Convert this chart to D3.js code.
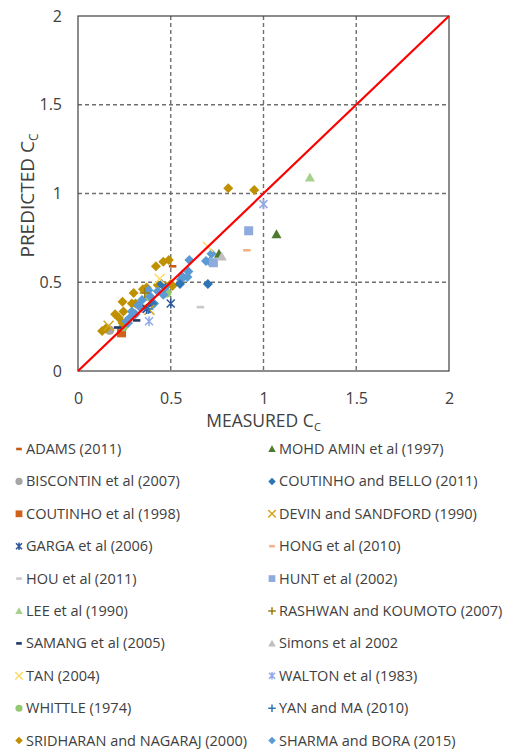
<!DOCTYPE html>
<html>
<head>
<meta charset="utf-8">
<script src="https://cdn.jsdelivr.net/npm/d3@7"></script>
<style>
	body { margin: 0; background: #fff; }
	#container { width: 506px; height: 751px; }
	text { font-family: "Open Sans", "Liberation Sans", sans-serif; fill: #404040; }
</style>
</head>
<body>
<div id="container"></div>
<script>
//Axis ticks
var ticks = [0, 0.5, 1, 1.5, 2];

//Each series: [measured, predicted]
var adams = [[0.51, 0.59]];
var mohdAmin = [[1.07, 0.77], [0.76, 0.66]];
var biscontin = [[0.17, 0.23]];
var coutinhoBello = [[0.55, 0.49], [0.70, 0.49], [0.40, 0.38], [0.45, 0.49]];
var coutinho1998 = [[0.235, 0.215]];
var devin = [[0.165, 0.255], [0.385, 0.345]];
var garga = [[0.50, 0.38], [0.37, 0.35]];
var hong = [[0.91, 0.68]];
var hou = [[0.66, 0.36]];
var hunt = [[0.92, 0.79], [0.73, 0.61]];
var lee = [[1.25, 1.09]];
var rashwan = [[0.36, 0.44]];
var samang = [[0.316, 0.285], [0.214, 0.245]];
var simons = [[0.775, 0.645]];
var tan = [[0.70, 0.70], [0.44, 0.52]];
var walton = [[1.00, 0.94], [0.383, 0.28]];
var whittle = [[0.38, 0.42], [0.478, 0.44], [0.244, 0.25]];
var yanMa = [[0.38, 0.35]];
var sridharan = [[0.13, 0.225], [0.15, 0.24], [0.20, 0.32], [0.22, 0.30], [0.24, 0.27],
	[0.245, 0.335], [0.29, 0.38], [0.24, 0.39], [0.30, 0.44], [0.31, 0.38], [0.35, 0.46],
	[0.37, 0.47], [0.42, 0.59], [0.46, 0.615], [0.49, 0.625], [0.43, 0.485], [0.47, 0.48],
	[0.50, 0.49], [0.51, 0.48], [0.81, 1.03], [0.95, 1.02]];
var sharma = [[0.60, 0.625], [0.56, 0.535], [0.595, 0.56], [0.69, 0.62], [0.72, 0.66],
	[0.71, 0.615], [0.555, 0.515], [0.59, 0.53], [0.46, 0.43], [0.38, 0.455], [0.34, 0.355],
	[0.29, 0.335], [0.28, 0.30], [0.26, 0.28], [0.325, 0.37], [0.345, 0.40], [0.39, 0.42],
	[0.41, 0.38], [0.43, 0.45], [0.47, 0.47], [0.31, 0.32], [0.27, 0.27]];

//Legend order (two columns, row by row)
var legendNames = ["ADAMS (2011)", "MOHD AMIN et al (1997)", "BISCONTIN et al (2007)",
	"COUTINHO and BELLO (2011)", "COUTINHO et al (1998)", "DEVIN and SANDFORD (1990)",
	"GARGA et al (2006)", "HONG et al (2010)", "HOU et al (2011)", "HUNT et al (2002)",
	"LEE et al (1990)", "RASHWAN and KOUMOTO (2007)", "SAMANG et al (2005)", "Simons et al 2002",
	"TAN (2004)", "WALTON et al (1983)", "WHITTLE (1974)", "YAN and MA (2010)",
	"SRIDHARAN and NAGARAJ (2000)", "SHARMA and BORA (2015)"];
var legendData = [adams, mohdAmin, biscontin, coutinhoBello, coutinho1998, devin, garga, hong,
	hou, hunt, lee, rashwan, samang, simons, tan, walton, whittle, yanMa, sridharan, sharma];
var shapes = ["dash", "triangle", "circle", "diamond", "square", "x", "star", "dash", "dash", "square",
	"triangle", "plus", "dash", "triangle", "x", "star", "circle", "plus", "diamond", "diamond"];
var colors = ["#C55A11", "#4E7A2E", "#A5A5A5", "#2E75B6", "#D0611A", "#D4A31A", "#2F5597", "#F4B183",
	"#C9C9C9", "#8FAADC", "#A9D18E", "#A07A10", "#203864", "#BFBFBF", "#FFD966", "#8FA8E8",
	"#94C973", "#2E75B6", "#BF9000", "#5B9BD5"];

//Paint order roughly as in the picture
var drawOrder = [4, 2, 16, 18, 19, 3, 0, 1, 5, 6, 7, 8, 9, 10, 11, 12, 13, 14, 15, 17];

function marker(g, shape, color, s) {
	var h = s / 2;
	if (shape === "diamond") {
		g.append("path").attr("d", "M0," + (-h) + "L" + h + ",0L0," + h + "L" + (-h) + ",0Z").attr("fill", color);
	} else if (shape === "square") {
		g.append("rect").attr("x", -h * 0.9).attr("y", -h * 0.9).attr("width", h * 1.8).attr("height", h * 1.8).attr("fill", color);
	} else if (shape === "circle") {
		g.append("circle").attr("r", h * 0.95).attr("fill", color);
	} else if (shape === "triangle") {
		g.append("path").attr("d", "M0," + (-h) + "L" + h + "," + (h * 0.8) + "L" + (-h) + "," + (h * 0.8) + "Z").attr("fill", color);
	} else if (shape === "dash") {
		g.append("rect").attr("x", -h * 0.75).attr("y", -1.3).attr("width", h * 1.5).attr("height", 2.6).attr("fill", color);
	} else if (shape === "x") {
		g.append("path").attr("d", "M" + (-h) + "," + (-h) + "L" + h + "," + h + "M" + h + "," + (-h) + "L" + (-h) + "," + h)
			.attr("stroke", color).attr("stroke-width", 1.5);
	} else if (shape === "plus") {
		g.append("path").attr("d", "M0," + (-h) + "L0," + h + "M" + (-h) + ",0L" + h + ",0")
			.attr("stroke", color).attr("stroke-width", 1.5);
	} else if (shape === "star") {
		//Excel style asterisk: an x with a vertical bar
		g.append("path").attr("d", "M" + (-h * 0.8) + "," + (-h * 0.8) + "L" + (h * 0.8) + "," + (h * 0.8) +
			"M" + (h * 0.8) + "," + (-h * 0.8) + "L" + (-h * 0.8) + "," + (h * 0.8) + "M0," + (-h) + "L0," + h)
			.attr("stroke", color).attr("stroke-width", 1.5);
	}
}

function makeChart() {
	var left = 78, right = 449, top = 16, bottom = 371;

	var svg = d3.select("#container").append("svg")
		.attr("width", 506).attr("height", 751);

	var x = d3.scaleLinear().domain([0, 2]).range([left, right]);
	var y = d3.scaleLinear().domain([0, 2]).range([bottom, top]);

	//Dashed grid
	var grid = svg.append("g");
	grid.selectAll(".gx").data(ticks.slice(1, 4)).enter().append("line")
		.attr("x1", function(d) { return x(d); }).attr("x2", function(d) { return x(d); })
		.attr("y1", top).attr("y2", bottom)
		.attr("stroke", "#6f6f6f").attr("stroke-width", 1.4).attr("stroke-dasharray", "4,3");
	grid.selectAll(".gy").data(ticks.slice(1, 4)).enter().append("line")
		.attr("y1", function(d) { return y(d); }).attr("y2", function(d) { return y(d); })
		.attr("x1", left).attr("x2", right)
		.attr("stroke", "#6f6f6f").attr("stroke-width", 1.4).attr("stroke-dasharray", "4,3");

	//Frame
	svg.append("rect").attr("x", left).attr("y", top).attr("width", right - left).attr("height", bottom - top)
		.attr("fill", "none").attr("stroke", "#404040").attr("stroke-width", 1.2);

	//Axes (labels only)
	var xAxis = svg.append("g").attr("transform", "translate(0," + bottom + ")")
		.call(d3.axisBottom(x).tickValues(ticks).tickSize(0).tickPadding(22).tickFormat(d3.format("")));
	var yAxis = svg.append("g").attr("transform", "translate(" + left + ",0)")
		.call(d3.axisLeft(y).tickValues(ticks).tickSize(0).tickPadding(16).tickFormat(d3.format("")));
	[xAxis, yAxis].forEach(function(a) {
		a.select(".domain").remove();
		a.selectAll("text").attr("font-size", "16px").attr("font-family", null).attr("fill", "#404040");
	});

	//Points
	var pts = svg.append("g");
	drawOrder.forEach(function(i) {
		legendData[i].forEach(function(p) {
			var g = pts.append("g").attr("transform", "translate(" + x(p[0]) + "," + y(p[1]) + ")");
			marker(g, shapes[i], colors[i], 10);
		});
	});

	//1:1 line
	svg.append("line")
		.attr("x1", x(0)).attr("y1", y(0)).attr("x2", x(2)).attr("y2", y(2))
		.attr("stroke", "#FF0000").attr("stroke-width", 2.2);

	//Axis titles
	var xt = svg.append("text").attr("x", x(1)).attr("y", 427).attr("text-anchor", "middle").attr("font-size", "17.5px");
	xt.append("tspan").text("MEASURED C");
	xt.append("tspan").attr("font-size", "11px").attr("dy", 4).text("C");

	var yt = svg.append("text").attr("transform", "translate(34," + (y(1) + 2) + ") rotate(-90)")
		.attr("text-anchor", "middle").attr("font-size", "19px");
	yt.append("tspan").text("PREDICTED C");
	yt.append("tspan").attr("font-size", "12px").attr("dy", 4).text("C");

	//Legend
	var leg = svg.append("g");
	legendNames.forEach(function(name, i) {
		var col = i % 2, row = Math.floor(i / 2);
		var lx = col === 0 ? 19 : 272;
		var ly = 449 + row * 32.4;
		var g = leg.append("g").attr("transform", "translate(" + lx + "," + ly + ")");
		marker(g, shapes[i], colors[i], 7.5);
		leg.append("text").attr("x", lx + 7).attr("y", ly).attr("dy", "0.35em")
			.attr("font-size", "14.5px").text(name);
	});
}

makeChart();
</script>
</body>
</html>
